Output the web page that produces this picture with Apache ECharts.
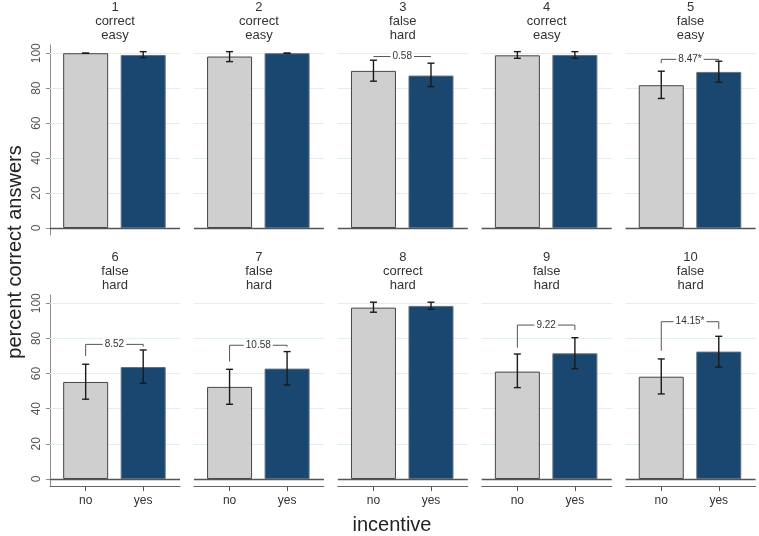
<!DOCTYPE html>
<html>
<head>
<meta charset="utf-8">
<script src="https://cdn.jsdelivr.net/npm/echarts@6/dist/echarts.min.js"></script>
<style>html,body{margin:0;padding:0;background:#fff;}#chart{width:759px;height:536px;}</style>
</head>
<body>
<div id="chart"></div>
<script>
const panelIds = ['1','2','3','4','5','6','7','8','9','10'];
const answerType = ['correct','correct','false','correct','false','false','false','correct','false','false'];
const difficulty = ['easy','easy','hard','easy','easy','hard','hard','hard','hard','hard'];
const incentiveCats = ['no','yes'];
const meanNo  = [100, 98.1, 89.9, 98.8, 81.7, 55.2, 52.4, 97.5, 61.1, 58.2];
const meanYes = [99.0, 100, 87.2, 99.0, 89.3, 63.7, 62.8, 98.5, 71.5, 72.5];
const ciLowNo   = [100, 95.2, 84.0, 97.1, 74.1, 45.4, 42.5, 94.9, 52.0, 48.4];
const ciHighNo  = [100, 100.9, 96.0, 100.9, 89.7, 65.3, 62.4, 100.6, 71.1, 68.3];
const ciLowYes  = [97.5, 100, 80.9, 97.1, 83.4, 54.5, 53.5, 96.6, 62.8, 63.7];
const ciHighYes = [100.9, 100, 94.3, 100.9, 95.4, 73.4, 72.5, 100.6, 80.4, 81.2];
const diffLabel     = [null, null, '0.58', null, '8.47*', '8.52', '10.58', null, '9.22', '14.15*'];
const bracketY      = [null, null, 98.1, null, 96.5, 76.6, 76.1, null, 87.6, 89.5];
const bracketLegNo  = [null, null, 98.1, null, 94.3, 70.0, 66.8, null, 74.7, 73.0];
const bracketLegYes = [null, null, 98.1, null, 95.4, 75.3, 75.3, null, 84.8, 85.4];
const yTicks = [0, 20, 40, 60, 80, 100];
const gridValues = [20, 40, 60, 80, 100];

const FONT = 'Liberation Sans, Arial, sans-serif';
const GRAY = '#cfcfcf', NAVY = '#1a476f';
const chart = echarts.init(document.getElementById('chart'), null, {renderer: 'canvas'});

const grids = [], xAxes = [], yAxes = [], series = [], graphics = [];
const panelLeft0 = 50, panelStep = 143.9, panelW = 130;

panelIds.forEach((id, i) => {
  const row = Math.floor(i / 5), col = i % 5;
  const left = panelLeft0 + col * panelStep;
  const top = row === 0 ? 45 : 295;
  const height = row === 0 ? 190 : 191;
  const showX = row === 1, showY = col === 0;
  grids.push({left: left, top: top, width: panelW, height: height, containLabel: false});
  xAxes.push({
    gridIndex: i, type: 'value', min: -0.62, max: 1.64,
    show: showX,
    axisLine: {show: showX, onZero: false, lineStyle: {color: '#666', width: 1}},
    axisTick: {show: showX, customValues: [0, 1], length: 5, lineStyle: {color: '#555'}},
    axisLabel: {show: showX, customValues: [0, 1], formatter: v => incentiveCats[Math.round(v)],
      fontSize: 12, color: '#333', fontFamily: FONT, margin: 9},
    splitLine: {show: false}
  });
  yAxes.push({
    gridIndex: i, type: 'value', min: -4, max: 104.7,
    show: showY,
    axisLine: {show: showY, onZero: false, lineStyle: {color: '#8c8c8c', width: 1}},
    axisTick: {show: showY, customValues: yTicks, length: 4, inside: false, lineStyle: {color: '#8c8c8c'}},
    axisLabel: {show: showY, customValues: yTicks, rotate: 90, fontSize: 12, color: '#555',
      fontFamily: FONT, margin: 7},
    splitLine: {show: false}
  });
  series.push({
    type: 'bar', xAxisIndex: i, yAxisIndex: i, barWidth: 45, z: 2,
    data: [
      {value: [0, meanNo[i]], itemStyle: {color: GRAY, borderColor: '#454545', borderWidth: 1}},
      {value: [1, meanYes[i]], itemStyle: {color: NAVY, borderColor: '#5d7286', borderWidth: 1}}
    ],
    markLine: {
      silent: true, symbol: 'none', z: 1, label: {show: false},
      lineStyle: {color: '#e4eef0', width: 1, type: 'solid'},
      data: gridValues.map(v => ({yAxis: v}))
    },
    animation: false
  });
  series.push({
    type: 'custom', xAxisIndex: i, yAxisIndex: i, z: 4,
    data: [[0, ciLowNo[i], ciHighNo[i]], [1, ciLowYes[i], ciHighYes[i]]],
    encode: {x: 0, y: [1, 2]},
    renderItem: function (params, api) {
      const x = api.value(0);
      const lo = api.coord([x, api.value(1)]);
      const hi = api.coord([x, api.value(2)]);
      const hw = 3.5;
      const st = {stroke: '#1a1a1a', lineWidth: 1.4};
      return {type: 'group', children: [
        {type: 'line', shape: {x1: lo[0], y1: lo[1], x2: hi[0], y2: hi[1]}, style: st},
        {type: 'line', shape: {x1: lo[0] - hw, y1: lo[1], x2: lo[0] + hw, y2: lo[1]}, style: st},
        {type: 'line', shape: {x1: hi[0] - hw, y1: hi[1], x2: hi[0] + hw, y2: hi[1]}, style: st}
      ]};
    },
    markLine: {
      silent: true, symbol: 'none', z: 5, label: {show: false},
      lineStyle: {color: '#555', width: 1.3, type: 'solid'},
      data: [{yAxis: 0}]
    },
    animation: false
  });
  if (diffLabel[i] !== null) {
    series.push({
      type: 'custom', xAxisIndex: i, yAxisIndex: i, z: 5,
      data: [[0, bracketY[i], bracketLegNo[i], bracketLegYes[i]]],
      renderItem: function (params, api) {
        const by = api.value(1);
        const p1 = api.coord([0, api.value(2)]);
        const p2 = api.coord([0, by]);
        const p3 = api.coord([1, by]);
        const p4 = api.coord([1, api.value(3)]);
        return {type: 'group', children: [
          {type: 'polyline', shape: {points: [p1, p2, p3, p4]}, style: {stroke: '#555', lineWidth: 1, fill: null}},
          {type: 'text', z2: 10, style: {text: diffLabel[i], x: (p2[0] + p3[0]) / 2, y: p2[1],
            align: 'center', verticalAlign: 'middle', fill: '#333', font: '10px ' + FONT,
            backgroundColor: '#fff', padding: [1, 2]}}
        ]};
      },
      animation: false
    });
  }
  graphics.push({
    type: 'text', x: left + panelW / 2, y: (row === 0 ? 0.5 : 250.5),
    style: {text: id + '\n' + answerType[i] + '\n' + difficulty[i], align: 'center', verticalAlign: 'top',
      font: '13px ' + FONT, lineHeight: 14, fill: '#333'}
  });
});

graphics.push({
  type: 'text', x: 392, y: 525,
  style: {text: 'incentive', align: 'center', verticalAlign: 'middle', font: '20px ' + FONT, fill: '#222'}
});
graphics.push({
  type: 'text', x: 15, y: 252, rotation: Math.PI / 2,
  style: {text: 'percent correct answers', align: 'center', verticalAlign: 'middle', font: '20px ' + FONT, fill: '#222'}
});

chart.setOption({
  animation: false,
  backgroundColor: '#fff',
  grid: grids, xAxis: xAxes, yAxis: yAxes, series: series, graphic: graphics
});
</script>
</body>
</html>
